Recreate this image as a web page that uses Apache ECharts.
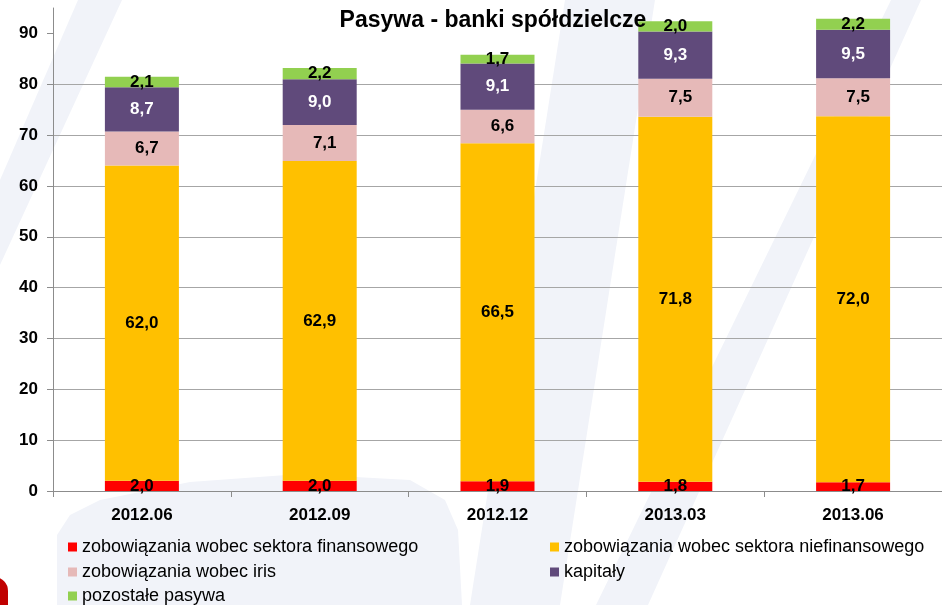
<!DOCTYPE html>
<html>
<head>
<meta charset="utf-8">
<script src="https://cdn.jsdelivr.net/npm/echarts@6/dist/echarts.min.js"></script>
<style>
html,body{margin:0;padding:0;background:#fff;}
#chart{width:942px;height:605px;}
</style>
</head>
<body>
<div id="chart"></div>
<script>
const categories = ['2012.06', '2012.09', '2012.12', '2013.03', '2013.06'];
const seriesNames = [
  'zobowiązania wobec sektora finansowego',
  'zobowiązania wobec sektora niefinansowego',
  'zobowiązania wobec iris',
  'kapitały',
  'pozostałe pasywa'
];
const finansowe = [2.0, 2.0, 1.9, 1.8, 1.7];
const niefinansowe = [62.0, 62.9, 66.5, 71.8, 72.0];
const iris = [6.7, 7.1, 6.6, 7.5, 7.5];
const kapitaly = [8.7, 9.0, 9.1, 9.3, 9.5];
const pozostale = [2.1, 2.2, 1.7, 2.0, 2.2];
const yTicks = [0, 10, 20, 30, 40, 50, 60, 70, 80, 90];

const colors = ['#FF0000', '#FFC000', '#E6B9B8', '#604A7B', '#92D050'];
const labelColors = ['#000', '#000', '#000', '#fff', '#000'];
const labelOffsets = [[0,0],[0,0],[5,0],[0,0],[0,0]];
const dataSets = [finansowe, niefinansowe, iris, kapitaly, pozostale];
const FONT = '"Liberation Sans", Arial, sans-serif';
const WM = '#F1F3F9';

const chart = echarts.init(document.getElementById('chart'));
const series = dataSets.map((d, i) => ({
  name: seriesNames[i],
  type: 'bar',
  stack: 'total',
  barWidth: 74,
  data: d,
  itemStyle: { color: colors[i] },
  label: {
    show: true,
    position: 'inside',
    offset: labelOffsets[i],
    color: labelColors[i],
    fontFamily: FONT,
    fontWeight: 'bold',
    fontSize: 17,
    formatter: p => p.value.toFixed(1).replace('.', ',')
  }
}));

// legend: one component per entry, laid out in two columns as in the original
const legendPos = [
  { left: 68, top: 538 }, { left: 550, top: 538 },
  { left: 68, top: 563 }, { left: 550, top: 563 },
  { left: 68, top: 587 }
];
const legends = seriesNames.map((n, i) => ({
  data: [n],
  left: legendPos[i].left, top: legendPos[i].top,
  padding: 0,
  icon: 'rect', itemWidth: 9, itemHeight: 9,
  selectedMode: false,
  textStyle: { fontFamily: FONT, fontSize: 18, lineHeight: 18, color: '#000' }
}));

// faint decorative background watermark
const wmShapes = [
  [[78,0],[122,0],[0,265],[0,180]],
  [[891,0],[921,0],[648,605],[596,605]],
  [[565,0],[655,0],[560,605],[470,605]],
  [[57,605],[57,535],[70,515],[100,500],[190,482],[300,474],[410,480],[445,500],[458,530],[462,605]]
];
const graphics = wmShapes.map(pts => ({
  type: 'polygon', z: -10, silent: true,
  shape: { points: pts, smooth: 0 },
  style: { fill: WM }
}));
graphics.push({
  type: 'rect', z: -5, silent: true,
  shape: { x: -40, y: 577, width: 48, height: 60, r: 14 },
  style: { fill: '#C00000' }
});

chart.setOption({
  animation: false,
  graphic: graphics,
  title: {
    text: 'Pasywa - banki spółdzielcze',
    left: 488, top: 4, textAlign: 'center',
    textStyle: { fontFamily: FONT, fontWeight: 'bold', fontSize: 23, color: '#000' }
  },
  grid: { left: 53, right: -16, top: 8, bottom: 114, containLabel: false },
  legend: legends,
  xAxis: {
    type: 'category',
    data: categories,
    axisLine: { lineStyle: { color: '#8C8C8C' } },
    axisTick: { show: true, length: 6, lineStyle: { color: '#8C8C8C' } },
    axisLabel: { fontFamily: FONT, fontWeight: 'bold', fontSize: 17, color: '#000', margin: 16 }
  },
  yAxis: {
    type: 'value',
    min: 0, max: 95,
    interval: 10,
    axisLine: { show: true, lineStyle: { color: '#8C8C8C' } },
    axisTick: { show: true, length: 6, customValues: yTicks, lineStyle: { color: '#8C8C8C' } },
    splitLine: { show: true, showMaxLine: false, lineStyle: { color: '#A6A6A6' } },
    axisLabel: { customValues: yTicks, fontFamily: FONT, fontWeight: 'bold', fontSize: 17, color: '#000', margin: 15 }
  },
  series: series
});
</script>
</body>
</html>
